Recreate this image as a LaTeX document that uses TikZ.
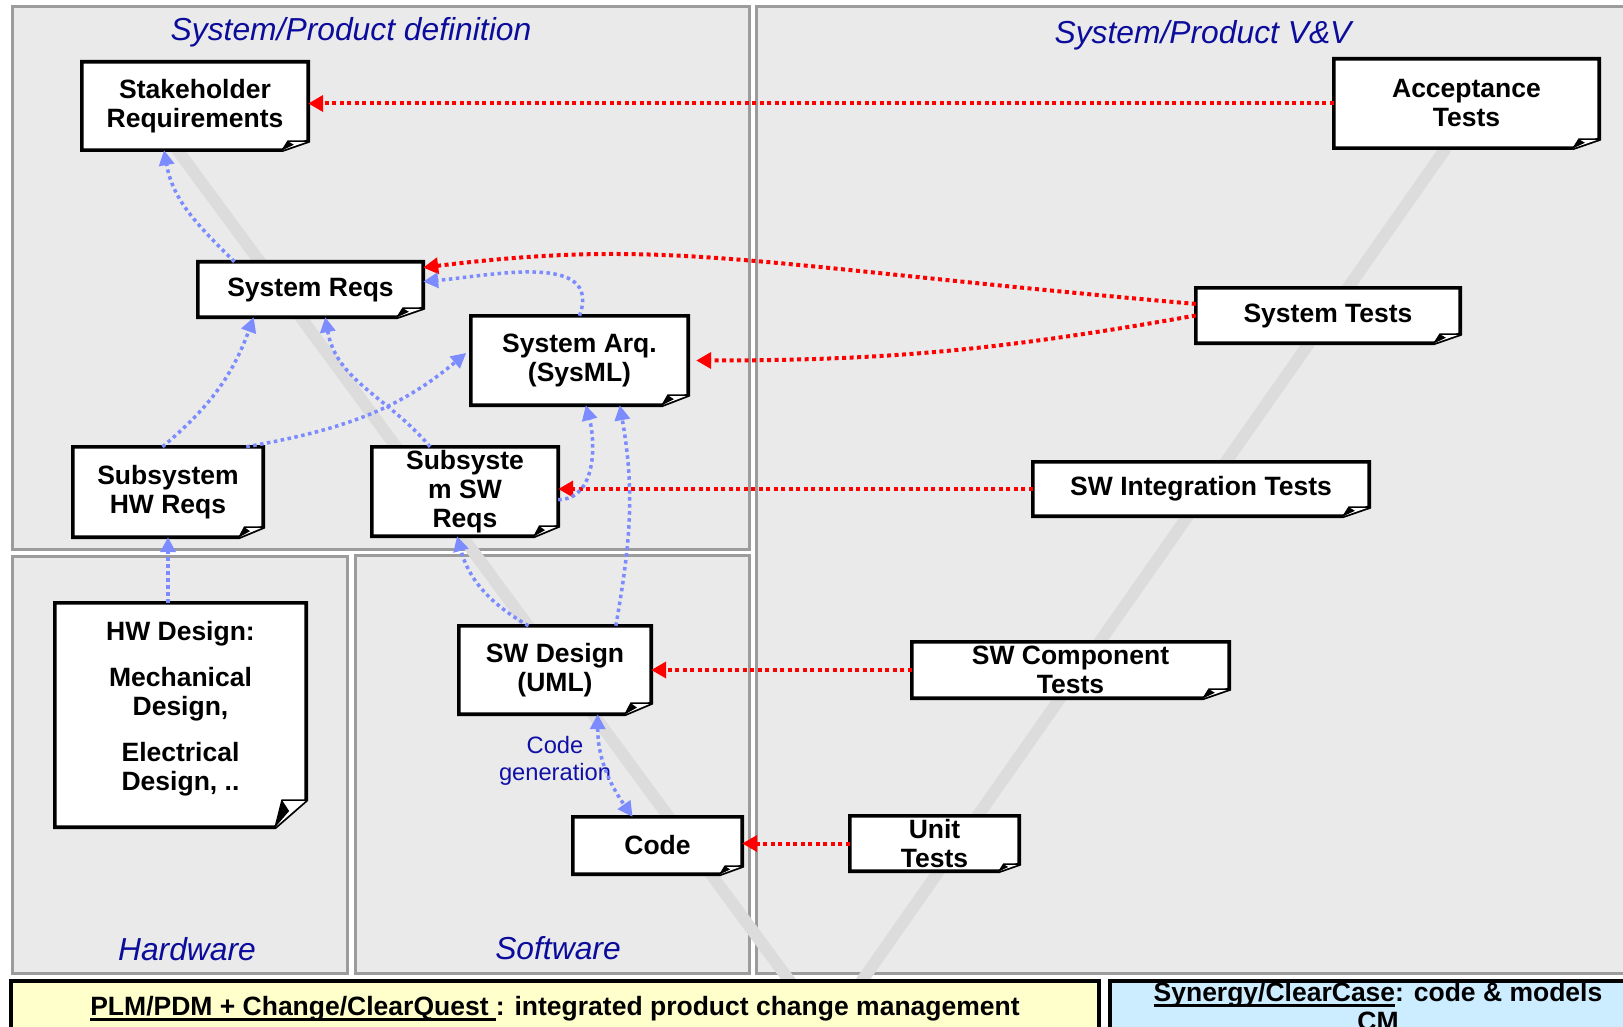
\documentclass[tikz,border=0pt]{standalone}
\usepackage{fontspec}
\setmainfont{Liberation Sans}
\usepackage{tikz}
\usetikzlibrary{calc,arrows.meta}
\definecolor{panelc}{HTML}{EAEAEA}
\definecolor{edgec}{HTML}{9C9C9C}
\definecolor{titlec}{HTML}{0C0C9C}
\definecolor{redc}{HTML}{FF0000}
\definecolor{bluec}{HTML}{7C8CFF}
\definecolor{bandc}{HTML}{DCDCDC}
\definecolor{yelc}{HTML}{FFFFCC}
\definecolor{skyc}{HTML}{CCECFF}
\definecolor{genc}{HTML}{1010A8}
\newcommand{\ulbar}[1]{\setbox0\hbox{#1}\rlap{\rule[-5pt]{\wd0}{2.6pt}}\box0}
\tikzset{
  panel/.style={fill=panelc,draw=edgec,line width=3pt},
  ttl/.style={font={\fontsize{31.8}{34}\selectfont\itshape},text=titlec,inner sep=0pt},
  doc/.style={fill=white,align=center,inner sep=0pt,font={\fontsize{26.5}{29}\selectfont\bfseries}},
  rar/.style={-{Triangle[length=15pt,width=16pt]},redc,line width=4pt,dash pattern=on 4pt off 3.5pt},
  bar/.style={-{Triangle[length=15pt,width=15pt]},bluec,line width=3.5pt,dash pattern=on 3.5pt off 3.5pt},
  bot/.style={draw=black,line width=3.5pt}
}

\begin{document}
\begin{tikzpicture}[x=1pt,y=-1pt]
\useasboundingbox (0,0) rectangle (1623,1027);
\clip (0,0) rectangle (1623,1027);
\fill[white] (0,0) rectangle (1623,1027);
\draw[panel] (12,7) rectangle (749,549);
\draw[panel] (756,7) rectangle (1640,973);
\draw[panel] (12,556) rectangle (347,973);
\draw[panel] (355,555) rectangle (749,973);
\draw[bandc,line width=12pt] (176,148) -- (800,995);
\draw[bandc,line width=12pt] (1446,148) -- (852,995);

\node[ttl] (deftl) at (351,32) {System/Product definition};
\node[ttl] (vvtl) at (1203,35) {System/Product V\&V};
\node[ttl] (hwtl) at (187,949) {Hardware};
\node[ttl] (swtl) at (558,948) {Software};

\node[doc,minimum width=226pt,minimum height=88pt] (stake) at (195,106) {Stakeholder\\Requirements};
\node[doc,minimum width=265pt,minimum height=89pt] (accept) at (1466.5,103.5) {Acceptance\\Tests};
\node[doc,minimum width=225pt,minimum height=55pt] (sysreq) at (310.5,289.5) {System Reqs};
\node[doc,minimum width=217pt,minimum height=89pt] (sysarq) at (579.5,360.5) {System Arq.\\(SysML)};
\node[doc,minimum width=264pt,minimum height=55pt] (systst) at (1328,315.5) {System Tests};
\node[doc,minimum width=190pt,minimum height=90pt] (subhw) at (168,492) {Subsystem\\HW Reqs};
\node[doc,minimum width=186pt,minimum height=89pt] (subsw) at (465,491.5) {Subsyste\\m SW\\Reqs};
\node[doc,minimum width=336pt,minimum height=54pt] (swint) at (1201,489) {SW Integration Tests};
\node[doc,minimum width=251pt,minimum height=224pt] (hwdes) at (180.5,715) {HW Design:\\[17pt]Mechanical\\Design,\\[17pt]Electrical\\Design, ..\\[-10pt]\mbox{}};
\node[doc,minimum width=192pt,minimum height=88pt] (swdes) at (555,670) {SW Design\\(UML)};
\node[doc,minimum width=317pt,minimum height=56pt] (swcomp) at (1070.5,670) {SW Component\\Tests};
\node[doc,minimum width=169pt,minimum height=57pt] (code) at (657.5,845.5) {Code};
\node[doc,minimum width=169pt,minimum height=55pt] (unit) at (934.5,843.5) {Unit\\Tests};

\foreach \n/\cw/\ch in {stake/26/9,accept/26/9,sysreq/26/9,sysarq/26/10,systst/26/9,subhw/24/10,subsw/24/10,swint/26/9,hwdes/31/27,swdes/26/11,swcomp/26/9,code/22/8,unit/20/7} {
  \fill[panelc] ($(\n.south east)+(-\cw,0)$) -- (\n.south east) -- ($(\n.south east)+(0,-\ch)$) -- cycle;
  \draw[line width=3.6pt] (\n.south west) -- (\n.north west) -- (\n.north east) -- ($(\n.south east)+(0,-\ch)$) -- ($(\n.south east)+(-\cw,0)$) -- cycle;
  \filldraw[line width=1.5pt,fill=white] ($(\n.south east)+(-\cw,0)$) -- ($(\n.south east)+(-0.78*\cw,-\ch)$) -- ($(\n.south east)+(0,-\ch)$);
  \fill ($(\n.south east)+(-\cw,0)$) -- ($(\n.south east)+(-0.78*\cw,-\ch)$) -- ($(\n.south east)+(-0.55*\cw,-0.6*\ch)$) -- cycle;
}

\node[font={\fontsize{23.7}{27}\selectfont},text=genc,align=center,inner sep=0pt] (cgen) at (555,761) {Code\\generation};

\draw[rar] (accept.west) -- (accept.west -| stake.east);
\draw[rar] (systst.175) .. controls +(175:450pt) and +(7:250pt) .. (sysreq.11);
\draw[rar,shorten >=8pt] (systst.west) to[out=190,in=0] (sysarq.east);
\draw[rar] (swint.west) -- (swint.west -| subsw.east);
\draw[rar] (swcomp.west) -- (swcomp.west -| swdes.east);
\draw[rar] (unit.west) -- (unit.west -| code.east);

\draw[bar] (sysreq.160) to[out=135,in=-80] (stake.235);
\draw[bar] (subhw.97) to[out=40,in=-110] (sysreq.206);
\draw[bar,shorten >=6pt] (subhw.30) to[out=10,in=-140] (sysarq.174);
\draw[bar] (subsw.128) to[out=130,in=-80] (sysreq.298);
\draw[bar] (sysarq.north) to[out=70,in=5,looseness=1.1] (sysreq.4);
\draw[bar] (subsw.-5) to[out=0,in=-75] (sysarq.278);
\draw[bar] (swdes.36) to[out=80,in=-80] (sysarq.312);
\draw[bar] (swdes.121) to[out=150,in=-75] (subsw.260);
\draw[bar] (hwdes.north -| subhw.south) -- (subhw.south);
\draw[bar,{Triangle[length=15pt,width=15pt]}-{Triangle[length=15pt,width=15pt]}] (swdes.314) to[out=-90,in=125] (code.131);

\draw[bot,fill=yelc] (11,981) rectangle (1099,1045);
\draw[bot,fill=skyc] (1110,981) rectangle (1650,1045);
\node[doc,fill=none] (plm) at (555,1009) {\ulbar{PLM/PDM + Change/ClearQuest\ }: integrated product change management};
\node[doc,fill=none] (cm) at (1378,1007) {\ulbar{Synergy/ClearCase}: code \& models\\CM};
\end{tikzpicture}
\end{document}
